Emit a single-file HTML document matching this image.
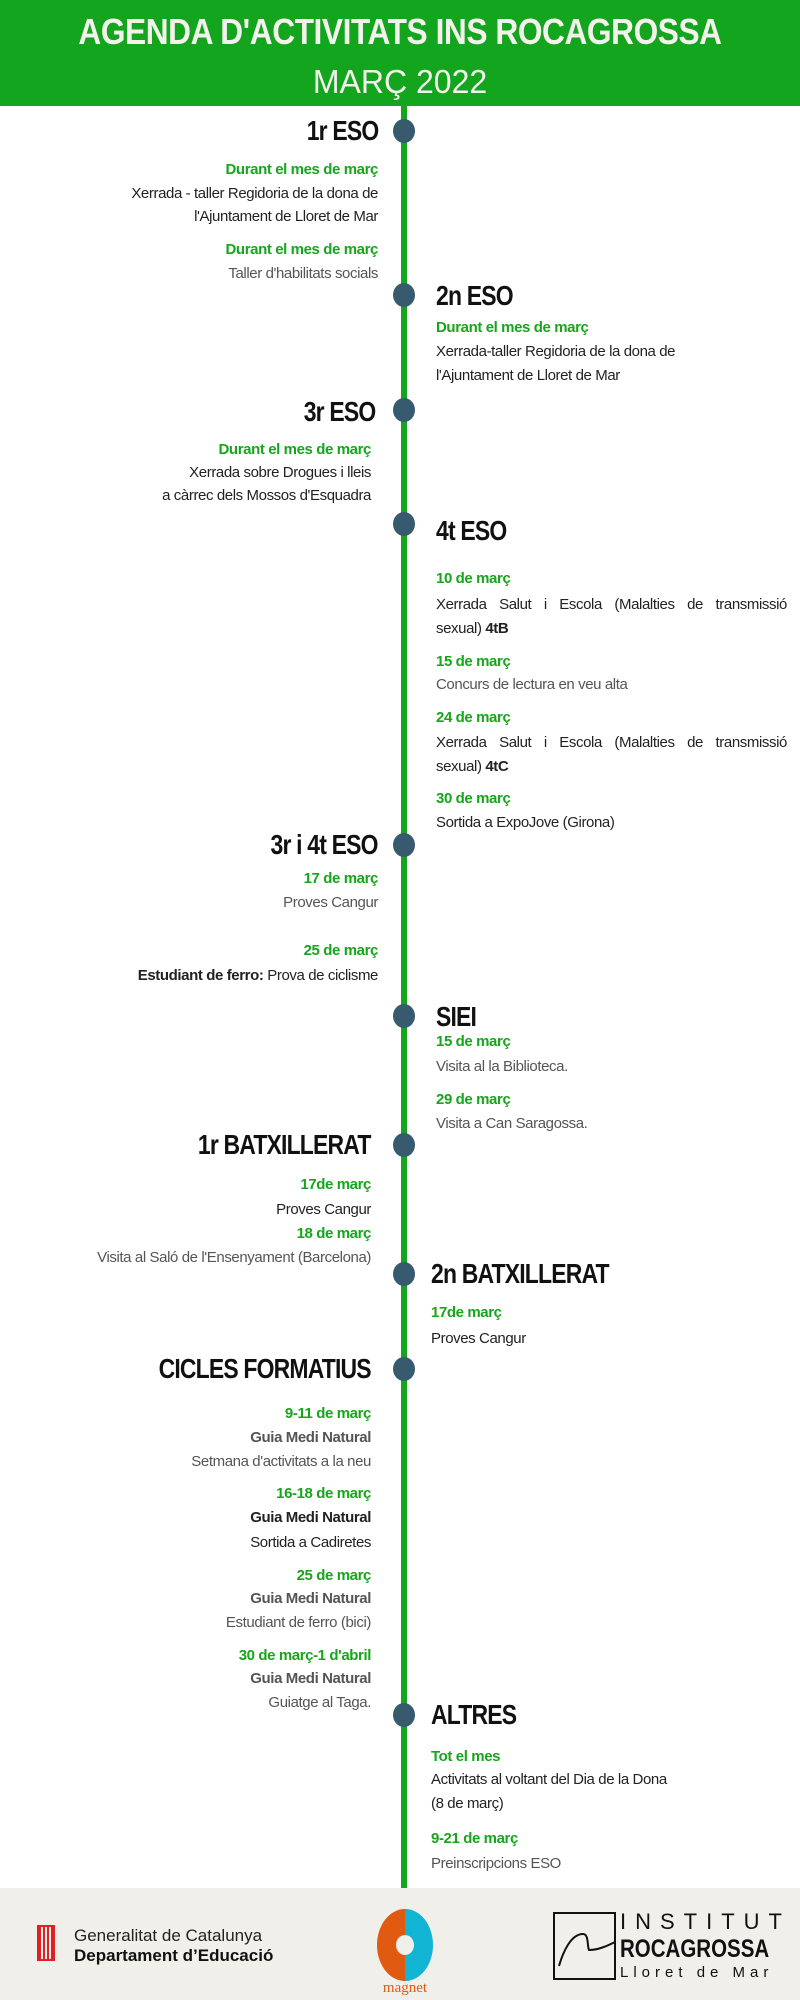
<!DOCTYPE html>
<html><head><meta charset="utf-8"><style>
*{margin:0;padding:0;box-sizing:border-box}
body{width:800px;height:2000px;position:relative;background:#fff;font-family:"Liberation Sans",sans-serif;overflow:hidden}
.hdr{position:absolute;left:0;top:0;width:800px;height:106px;background:#14a51e}
.t1{position:absolute;left:0;top:12px;width:800px;text-align:center;color:#f4f2ec;font-weight:bold;font-size:36px;line-height:40px;transform:scaleX(0.88);letter-spacing:-0.5px}
.t2{position:absolute;left:0;top:64px;width:800px;text-align:center;color:#f4f2ec;font-size:33px;line-height:36px;transform:scaleX(0.97)}
.line{position:absolute;left:401px;top:106px;width:6px;height:1782px;background:#14a51e}
.dot{position:absolute;width:22px;height:24px;border-radius:50%;background:#385a6e;left:393px}
.h{position:absolute;font-weight:bold;font-size:28px;line-height:32px;color:#111;white-space:nowrap;letter-spacing:-1px}
.hl{transform:scaleX(0.82);transform-origin:right center}
.hr{left:436px;transform:scaleX(0.82);transform-origin:left center}
.d,.x{position:absolute;white-space:nowrap;font-size:15px;line-height:20px;letter-spacing:-0.4px}
.d{color:#17a51c;font-weight:bold}
.x{color:#222}
.g{color:#555}
.L{text-align:right}
.R{left:436px}
.j{width:351px;display:flex;justify-content:space-between}
.foot{position:absolute;left:0;top:1888px;width:800px;height:112px;background:#f0efea}
</style></head><body>
<div class="hdr"></div>
<div class="t1">AGENDA D'ACTIVITATS INS ROCAGROSSA</div>
<div class="t2">MARÇ 2022</div>
<div class="line"></div>

<div class="dot" style="top:119px"></div>
<div class="h hl" style="right:422px;top:115px">1r ESO</div>
<div class="d L" style="right:422px;top:160px">Durant el mes de març</div>
<div class="x L" style="right:422px;top:184px">Xerrada - taller Regidoria de la dona de</div>
<div class="x L" style="right:422px;top:207px">l'Ajuntament de Lloret de Mar</div>
<div class="d L" style="right:422px;top:240px">Durant el mes de març</div>
<div class="x L g" style="right:422px;top:264px">Taller d'habilitats socials</div>

<div class="dot" style="top:283px"></div>
<div class="h hr" style="top:280px">2n ESO</div>
<div class="d R" style="top:318px">Durant el mes de març</div>
<div class="x R" style="top:342px">Xerrada-taller Regidoria de la dona de</div>
<div class="x R" style="top:366px">l'Ajuntament de Lloret de Mar</div>

<div class="dot" style="top:398px"></div>
<div class="h hl" style="right:425px;top:396px">3r ESO</div>
<div class="d L" style="right:429px;top:440px">Durant el mes de març</div>
<div class="x L" style="right:429px;top:463px">Xerrada sobre Drogues i lleis</div>
<div class="x L" style="right:429px;top:486px">a càrrec dels Mossos d'Esquadra</div>

<div class="dot" style="top:512px"></div>
<div class="h hr" style="top:515px">4t ESO</div>
<div class="d R" style="top:569px">10 de març</div>
<div class="x R j" style="top:595px"><span>Xerrada</span><span>Salut</span><span>i</span><span>Escola</span><span>(Malalties</span><span>de</span><span>transmissió</span></div>
<div class="x R" style="top:619px">sexual) <b>4tB</b></div>
<div class="d R" style="top:652px">15 de març</div>
<div class="x R g" style="top:675px">Concurs de lectura en veu alta</div>
<div class="d R" style="top:708px">24 de març</div>
<div class="x R j" style="top:733px"><span>Xerrada</span><span>Salut</span><span>i</span><span>Escola</span><span>(Malalties</span><span>de</span><span>transmissió</span></div>
<div class="x R" style="top:757px">sexual) <b>4tC</b></div>
<div class="d R" style="top:789px">30 de març</div>
<div class="x R" style="top:813px">Sortida a ExpoJove (Girona)</div>

<div class="dot" style="top:833px"></div>
<div class="h hl" style="right:422px;top:829px">3r i 4t ESO</div>
<div class="d L" style="right:422px;top:869px">17 de març</div>
<div class="x L g" style="right:422px;top:893px">Proves Cangur</div>
<div class="d L" style="right:422px;top:941px">25 de març</div>
<div class="x L" style="right:422px;top:966px"><b>Estudiant de ferro:</b> Prova de ciclisme</div>

<div class="dot" style="top:1004px"></div>
<div class="h hr" style="top:1001px">SIEI</div>
<div class="d R" style="top:1032px">15 de març</div>
<div class="x R g" style="top:1057px">Visita al la Biblioteca.</div>
<div class="d R" style="top:1090px">29 de març</div>
<div class="x R g" style="top:1114px">Visita a Can Saragossa.</div>

<div class="dot" style="top:1133px"></div>
<div class="h hl" style="right:429px;top:1129px">1r BATXILLERAT</div>
<div class="d L" style="right:429px;top:1175px">17de març</div>
<div class="x L" style="right:429px;top:1200px">Proves Cangur</div>
<div class="d L" style="right:429px;top:1224px">18 de març</div>
<div class="x L g" style="right:429px;top:1248px">Visita al Saló de l'Ensenyament (Barcelona)</div>

<div class="dot" style="top:1262px"></div>
<div class="h hr" style="left:431px;top:1258px">2n BATXILLERAT</div>
<div class="d R" style="left:431px;top:1303px">17de març</div>
<div class="x R" style="left:431px;top:1329px">Proves Cangur</div>

<div class="dot" style="top:1357px"></div>
<div class="h hl" style="right:429px;top:1353px">CICLES FORMATIUS</div>
<div class="d L" style="right:429px;top:1404px">9-11 de març</div>
<div class="x L g" style="right:429px;top:1428px"><b>Guia Medi Natural</b></div>
<div class="x L g" style="right:429px;top:1452px">Setmana d'activitats a la neu</div>
<div class="d L" style="right:429px;top:1484px">16-18 de març</div>
<div class="x L" style="right:429px;top:1508px"><b>Guia Medi Natural</b></div>
<div class="x L" style="right:429px;top:1533px">Sortida a Cadiretes</div>
<div class="d L" style="right:429px;top:1566px">25 de març</div>
<div class="x L g" style="right:429px;top:1589px"><b>Guia Medi Natural</b></div>
<div class="x L g" style="right:429px;top:1613px">Estudiant de ferro (bici)</div>
<div class="d L" style="right:429px;top:1646px">30 de març-1 d'abril</div>
<div class="x L g" style="right:429px;top:1669px"><b>Guia Medi Natural</b></div>
<div class="x L g" style="right:429px;top:1693px">Guiatge al Taga.</div>

<div class="dot" style="top:1703px"></div>
<div class="h hr" style="left:431px;top:1699px">ALTRES</div>
<div class="d R" style="left:431px;top:1747px">Tot el mes</div>
<div class="x R" style="left:431px;top:1770px">Activitats al voltant del Dia de la Dona</div>
<div class="x R" style="left:431px;top:1794px">(8 de març)</div>
<div class="d R" style="left:431px;top:1829px">9-21 de març</div>
<div class="x R g" style="left:431px;top:1854px">Preinscripcions ESO</div>

<div class="foot">
  <div style="position:absolute;left:37px;top:37px;width:18px;height:36px;background:repeating-linear-gradient(90deg,#e21f26 0 2px,#f0efea 2px 4px);border:2px solid #e21f26"></div>
  <div style="position:absolute;left:74px;top:38px;font-size:17px;line-height:20px;color:#222">Generalitat de Catalunya</div>
  <div style="position:absolute;left:74px;top:58px;font-size:17px;line-height:20px;color:#111;font-weight:bold">Departament d’Educació</div>
  <div style="position:absolute;left:377px;top:21px;width:56px;height:72px;border-radius:50%;background:linear-gradient(90deg,#e05a12 50%,#12b4d4 50%)"></div>
  <div style="position:absolute;left:396px;top:47px;width:18px;height:20px;border-radius:50%;background:#f0efea"></div>
  <div style="position:absolute;left:370px;top:92px;width:70px;text-align:center;font-family:'Liberation Serif',serif;font-size:15px;color:#e05a12;line-height:16px">magnet</div>
  <div style="position:absolute;left:553px;top:24px;width:63px;height:68px;border:2px solid #111"></div>
  <svg style="position:absolute;left:553px;top:24px" width="63" height="68" viewBox="0 0 63 68"><path d="M6 54 C10 40 18 22 30 22 C36 22 34 34 36 38 C46 38 56 33 62 30" fill="none" stroke="#111" stroke-width="2"/></svg>
  <div style="position:absolute;left:620px;top:22px;font-size:22px;letter-spacing:9px;color:#111;line-height:24px">INSTITUT</div>
  <div style="position:absolute;left:620px;top:48px;font-size:25px;font-weight:bold;color:#111;line-height:26px;transform:scaleX(0.82);transform-origin:left">ROCAGROSSA</div>
  <div style="position:absolute;left:620px;top:76px;font-size:15px;letter-spacing:5px;color:#111;line-height:18px">Lloret de Mar</div>
</div>
</body></html>
